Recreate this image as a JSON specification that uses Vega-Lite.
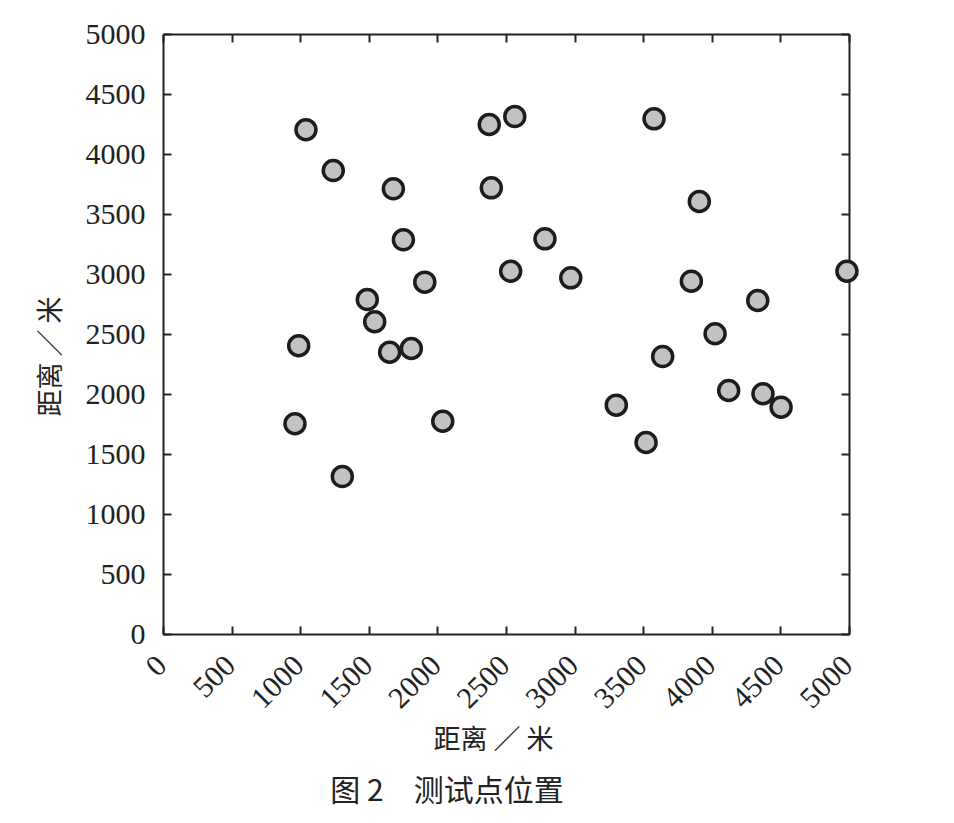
{
  "$schema": "https://vega.github.io/schema/vega-lite/v6.json",
  "width": 686,
  "height": 600,
  "autosize": "none",
  "padding": {"left": 163, "top": 34, "right": 105, "bottom": 189},
  "background": "white",
  "title": {
    "text": "图 2　测试点位置",
    "orient": "bottom",
    "anchor": "middle",
    "dx": -59,
    "offset": 23,
    "font": "Noto Sans CJK SC",
    "fontSize": 30,
    "fontWeight": "normal",
    "color": "#222222"
  },
  "config": {
    "view": {"stroke": null},
    "axis": {
      "grid": false,
      "domainColor": "#222222",
      "domainWidth": 2,
      "tickColor": "#222222",
      "tickWidth": 2,
      "tickSize": -8,
      "format": "d",
      "labelFont": "Liberation Serif",
      "labelFontSize": 30,
      "labelColor": "#222222",
      "titleFont": "Noto Sans CJK SC",
      "titleFontSize": 27,
      "titleFontWeight": "normal",
      "titleColor": "#222222"
    }
  },
  "data": {
    "values": [
      {"x": 1042, "y": 4202}, {"x": 1241, "y": 3862}, {"x": 1679, "y": 3710},
      {"x": 1752, "y": 3285}, {"x": 1908, "y": 2932}, {"x": 1489, "y": 2787},
      {"x": 1543, "y": 2602}, {"x": 1652, "y": 2348}, {"x": 1810, "y": 2379},
      {"x": 989, "y": 2402}, {"x": 2378, "y": 4246}, {"x": 2564, "y": 4312},
      {"x": 3579, "y": 4293}, {"x": 2393, "y": 3718}, {"x": 3909, "y": 3604},
      {"x": 2784, "y": 3293}, {"x": 2534, "y": 3023}, {"x": 2972, "y": 2968},
      {"x": 4985, "y": 3023}, {"x": 3851, "y": 2940}, {"x": 4335, "y": 2779},
      {"x": 4024, "y": 2502}, {"x": 3642, "y": 2312}, {"x": 4123, "y": 2029},
      {"x": 4373, "y": 2002}, {"x": 4505, "y": 1890}, {"x": 3304, "y": 1907},
      {"x": 962, "y": 1752}, {"x": 1307, "y": 1312}, {"x": 2039, "y": 1773},
      {"x": 3521, "y": 1596}
    ]
  },
  "layer": [
    {
      "mark": {"type": "circle", "size": 400, "fill": "#c2c2c2", "stroke": "#1c1c1c", "strokeWidth": 3.5, "opacity": 1},
      "encoding": {
        "x": {
          "field": "x", "type": "quantitative",
          "scale": {"domain": [0, 5000], "nice": false},
          "axis": {"orient": "bottom", "values": [0,500,1000,1500,2000,2500,3000,3500,4000,4500,5000], "labelAngle": -45, "labelPadding": 24, "labelOffset": -12, "title": "距离 ／ 米", "titlePadding": 14, "titleX": 330}
        },
        "y": {
          "field": "y", "type": "quantitative",
          "scale": {"domain": [0, 5000], "nice": false},
          "axis": {"orient": "left", "values": [0,500,1000,1500,2000,2500,3000,3500,4000,4500,5000], "labelPadding": 26, "title": "距离 ／ 米", "titlePadding": 20, "titleY": 322}
        }
      }
    },
    {
      "mark": {"type": "circle", "opacity": 0},
      "encoding": {
        "x": {
          "field": "x", "type": "quantitative",
          "scale": {"domain": [0, 5000], "nice": false},
          "axis": {"orient": "top", "values": [0,500,1000,1500,2000,2500,3000,3500,4000,4500,5000], "labels": false, "title": null}
        },
        "y": {
          "field": "y", "type": "quantitative",
          "scale": {"domain": [0, 5000], "nice": false},
          "axis": {"orient": "right", "values": [0,500,1000,1500,2000,2500,3000,3500,4000,4500,5000], "labels": false, "title": null}
        }
      }
    }
  ],
  "resolve": {"axis": {"x": "independent", "y": "independent"}}
}
